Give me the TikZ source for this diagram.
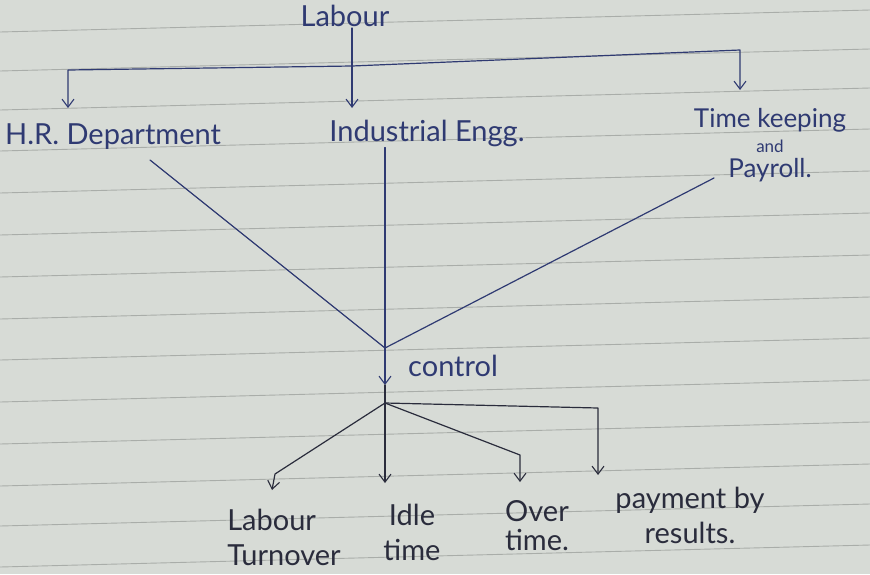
\documentclass[tikz,border=0pt]{standalone}
\usepackage{fontspec}
\setmainfont{Lato}
\usetikzlibrary{arrows.meta,calc}
\definecolor{paper}{HTML}{D7DBD6}
\definecolor{rule}{HTML}{A9ADA9}
\definecolor{blueink}{HTML}{2F3A72}
\definecolor{darkink}{HTML}{2A2C3C}
\tikzset{
  lbl/.style={inner sep=1pt, font=\fontsize{29}{35}\selectfont, align=center},
  blbl/.style={lbl, text=blueink},
  dlbl/.style={lbl, text=darkink},
  wire/.style={line width=1.2pt, line cap=round, line join=round},
  bwire/.style={wire, draw=blueink},
  dwire/.style={wire, draw=darkink},
  arr/.style={-{Straight Barb[length=8pt,width=12pt,line width=1.1pt]}},
  ruleline/.style={draw=rule, line width=0.9pt}
}
\begin{document}
\begin{tikzpicture}[x=1pt,y=-1pt]
\fill[paper] (0,0) rectangle (870,574);
\useasboundingbox (0,0) rectangle (870,574);
% ruled paper
\foreach \yy in {32,71,110,151,193,235,277,319,360,402,444,486,526,567}
  \draw[ruleline] (0,\yy) -- (870,\yy-22);
% nodes
\node[blbl] (labour) at (345,16) {Labour};
\node[blbl] (hr) at (113,137) {H.R. Department};
\node[blbl] (ie) at (427,133) {Industrial Engg.};
\node[blbl, inner sep=0pt, font=\fontsize{26}{25}\selectfont] (tk) at (770,145) {Time keeping\\{\fontsize{17}{18}\selectfont and}\\Payroll.};
\node[blbl] (control) at (453,366) {control};
\node[dlbl, align=left] (lt) at (284,537) {Labour\\Turnover};
\node[dlbl] (idle) at (412,532) {Idle\\time};
\node[dlbl, font=\fontsize{29}{29}\selectfont] (ot) at (537,526) {Over\\time.};
\node[dlbl] (pr) at (690,515) {payment by\\results.};
% coordinates
\coordinate (j1) at (352,66);
\coordinate (c1) at (68,70);
\coordinate (a1) at (68,108);
\coordinate (c3) at (740,50);
\coordinate (a3) at (740,90);
\coordinate (a2) at (352,108);
\coordinate (hrs) at (150,160);
\coordinate (tks) at (714,178);
\coordinate (cj) at (385,348);
\coordinate (ca) at (385,385);
\coordinate (f) at (385,403);
\coordinate (ltb) at (275,474);
\coordinate (lta) at (272,490);
\coordinate (ida) at (385,483);
\coordinate (otb) at (520,455);
\coordinate (ota) at (520,482);
\coordinate (prb) at (598,408);
\coordinate (pra) at (598,475);
% top tree
\draw[bwire, arr] (labour.south -| j1) -- (a2);
\draw[bwire, arr] (j1) -- (c1) -- (a1);
\draw[bwire, arr] (j1) -- (c3) -- (a3);
% converge to control
\draw[bwire] (hrs) -- (cj);
\draw[bwire] (tks) -- (cj);
\draw[bwire, arr] (ie.south -| cj) -- (ca);
\draw[dwire] (ca) -- (f);
% bottom tree
\draw[dwire, arr] (f) -- (ltb) -- (lta);
\draw[dwire, arr] (f) -- (ida);
\draw[dwire, arr] (f) -- (otb) -- (ota);
\draw[dwire, arr] (f) -- (prb) -- (pra);
\end{tikzpicture}
\end{document}
